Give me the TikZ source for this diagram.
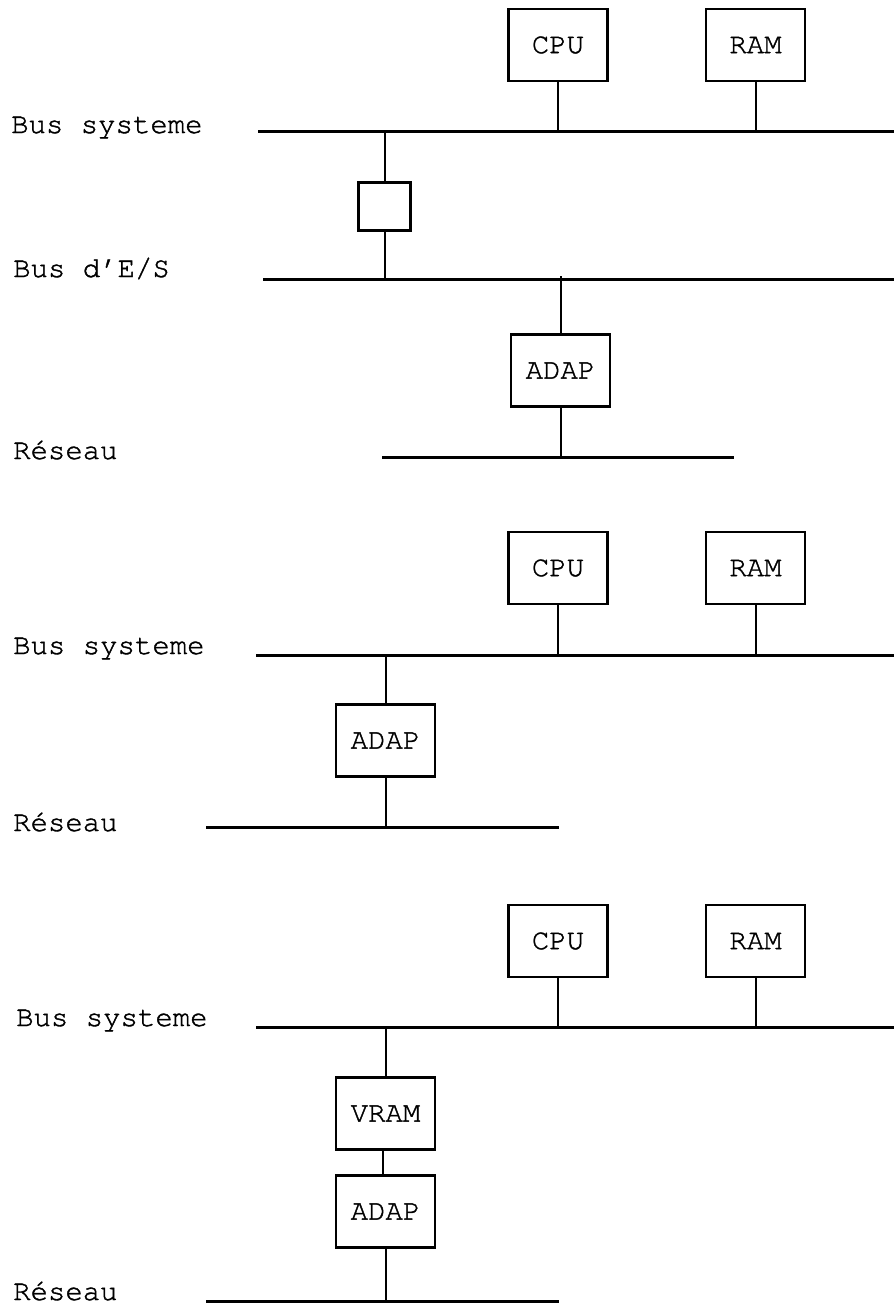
\documentclass[tikz,border=0pt]{standalone}
\usepackage{fontspec}
\setmainfont{texgyrecursor-regular.otf}[FakeBold=1.3]
\begin{document}
\begin{tikzpicture}[x=1pt,y=-1pt,
  every node/.style={font=\fontsize{29}{31}\selectfont},
  unit/.style={draw,line width=2.4pt,inner sep=0pt,minimum width=99pt,minimum height=72pt},
  smallunit/.style={draw,line width=2.4pt,inner sep=0pt,minimum width=52pt,minimum height=48pt},
  busline/.style={line width=3pt},
  link/.style={line width=2pt},
  lbl/.style={anchor=base west,inner sep=0pt}]
\useasboundingbox (0,0) rectangle (894,1307);

% ---------- Section 1 ----------
\node[unit] (cpuA) at (558,45) {CPU};
\node[unit] (ramA) at (755.5,45) {RAM};
\coordinate (sysAl) at (258,131);
\coordinate (sysAr) at (894,131);
\draw[busline] (sysAl) -- (sysAr);
\node[lbl] (lsysA) at (11,133) {Bus systeme};
\draw[link] (cpuA.south) -- (cpuA.south |- sysAl);
\draw[link] (ramA.south) -- (ramA.south |- sysAl);

\node[smallunit] (brA) at (384.5,206.5) {};
\coordinate (ioAl) at (263,279);
\coordinate (ioAr) at (894,279);
\draw[busline] (ioAl) -- (ioAr);
\node[lbl] (lioA) at (13,277) {Bus d’E/S};
\draw[link] (brA.north) -- (brA.north |- sysAl);
\draw[link] (brA.south) -- (brA.south |- ioAl);

\node[unit] (adapA) at (560.5,370.5) {ADAP};
\coordinate (netAl) at (382,457);
\coordinate (netAr) at (734,457);
\draw[busline] (netAl) -- (netAr);
\node[lbl] (lnetA) at (13,459) {Réseau};
\coordinate (adapAt) at (adapA.north |- ioAl);
\draw[link] (adapA.north) -- ([yshift=3pt]adapAt);
\draw[link] (adapA.south) -- (adapA.south |- netAl);

% ---------- Section 2 ----------
\node[unit] (cpuB) at (558,568) {CPU};
\node[unit] (ramB) at (755.5,568) {RAM};
\coordinate (sysBl) at (256,655);
\coordinate (sysBr) at (894,655);
\draw[busline] (sysBl) -- (sysBr);
\node[lbl] (lsysB) at (13,654) {Bus systeme};
\draw[link] (cpuB.south) -- (cpuB.south |- sysBl);
\draw[link] (ramB.south) -- (ramB.south |- sysBl);

\node[unit] (adapB) at (385.5,740.5) {ADAP};
\coordinate (netBl) at (206,827);
\coordinate (netBr) at (559,827);
\draw[busline] (netBl) -- (netBr);
\node[lbl] (lnetB) at (13,831) {Réseau};
\draw[link] (adapB.north) -- (adapB.north |- sysBl);
\draw[link] (adapB.south) -- (adapB.south |- netBl);

% ---------- Section 3 ----------
\node[unit] (cpuC) at (558,941) {CPU};
\node[unit] (ramC) at (755.5,941) {RAM};
\coordinate (sysCl) at (256,1027);
\coordinate (sysCr) at (894,1027);
\draw[busline] (sysCl) -- (sysCr);
\node[lbl] (lsysC) at (16,1026) {Bus systeme};
\draw[link] (cpuC.south) -- (cpuC.south |- sysCl);
\draw[link] (ramC.south) -- (ramC.south |- sysCl);

\node[unit] (vramC) at (385.5,1113.5) {VRAM};
\node[unit] (adapC) at (385.5,1211.5) {ADAP};
\coordinate (netCl) at (206,1301);
\coordinate (netCr) at (559,1301);
\draw[busline] (netCl) -- (netCr);
\node[lbl] (lnetC) at (13,1300) {Réseau};
\draw[link] (vramC.north) -- (vramC.north |- sysCl);
\draw[link] ([xshift=-3pt]vramC.south) -- ([xshift=-3pt]adapC.north);
\draw[link] (adapC.south) -- (adapC.south |- netCl);
\end{tikzpicture}
\end{document}
